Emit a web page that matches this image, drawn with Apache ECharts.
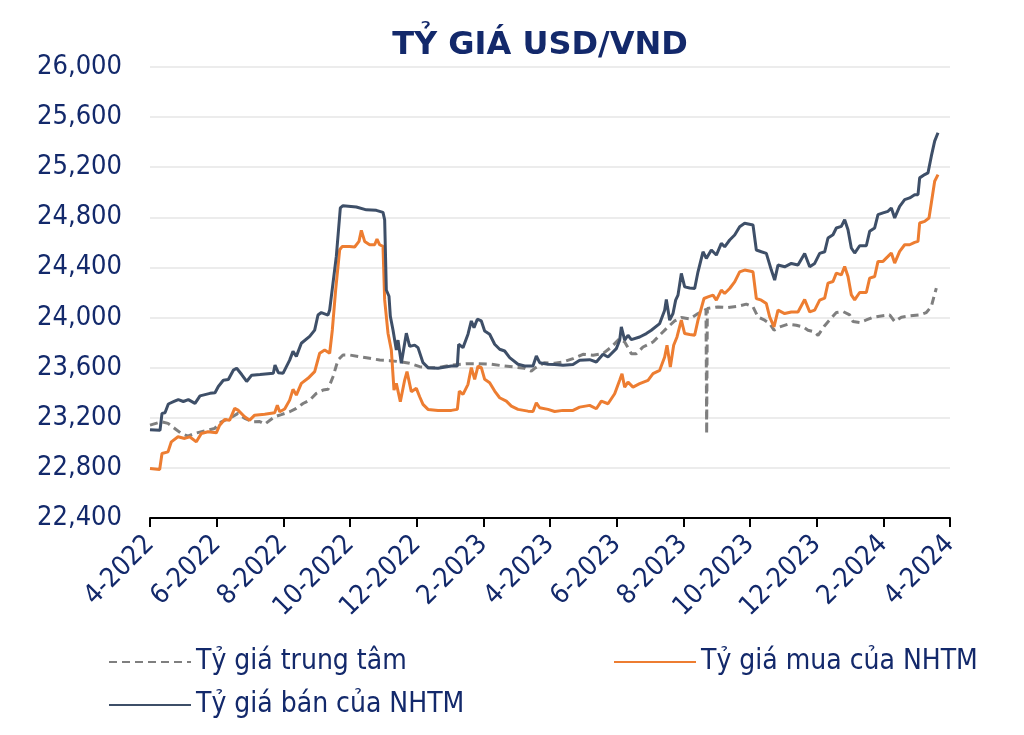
<!DOCTYPE html>
<html>
<head>
<meta charset="utf-8">
<script src="https://cdn.jsdelivr.net/npm/echarts@6/dist/echarts.min.js"></script>
<style>
html,body{margin:0;padding:0;background:#fff;}
#chart{width:1024px;height:735px;}
</style>
</head>
<body>
<div id="chart"></div>
<script>
// x values = months since 1 April 2022
const xTickLabels = ['4-2022','6-2022','8-2022','10-2022','12-2022','2-2023','4-2023','6-2023','8-2023','10-2023','12-2023','2-2024','4-2024'];
const seriesNames = ['Tỷ giá trung tâm', 'Tỷ giá mua của NHTM', 'Tỷ giá bán của NHTM'];

const centralX = [0,0.34,0.54,0.74,0.94,1.14,1.34,1.64,1.94,2.14,2.44,2.64,2.84,3.09,3.29,3.44,3.74,3.94,4.19,4.39,4.59,4.79,4.99,5.19,5.34,5.49,5.64,5.79,5.99,6.29,6.59,6.89,7.19,7.49,7.79,8.09,8.34,8.64,9.04,9.54,9.84,10.24,10.64,10.94,11.24,11.44,11.54,11.84,12.14,12.39,12.69,12.99,13.29,13.59,13.84,14.09,14.24,14.44,14.59,14.79,15.09,15.29,15.54,15.74,15.94,16.19,16.44,16.68,16.70,16.72,17.04,17.34,17.64,17.89,18.09,18.24,18.44,18.59,18.72,18.89,19.14,19.39,19.59,19.74,19.94,20.04,20.24,20.39,20.59,20.79,20.99,21.09,21.29,21.49,21.69,21.94,22.19,22.34,22.54,22.79,23.09,23.29,23.44,23.52,23.59];
const centralY = [23141,23168,23155,23115,23075,23053,23075,23096,23115,23168,23203,23235,23195,23168,23170,23149,23208,23225,23248,23275,23314,23341,23395,23421,23427,23528,23661,23701,23701,23688,23675,23661,23656,23648,23635,23608,23600,23600,23621,23632,23632,23627,23613,23605,23595,23573,23595,23640,23635,23645,23672,23707,23699,23712,23765,23832,23805,23712,23712,23765,23805,23859,23925,23973,24000,23990,24032,24065,23070,24072,24085,24080,24091,24107,24085,24005,23979,23952,23899,23925,23947,23939,23925,23899,23885,23858,23935,23981,24040,24048,24021,23968,23960,23981,24003,24013,24021,23968,24003,24013,24021,24040,24088,24168,24235];

const buyX = [0,0.29,0.36,0.54,0.64,0.84,1.04,1.19,1.39,1.54,1.74,1.99,2.09,2.24,2.39,2.54,2.64,2.84,2.99,3.14,3.44,3.74,3.82,3.89,4.04,4.19,4.29,4.39,4.54,4.74,4.94,5.09,5.24,5.39,5.47,5.57,5.69,5.77,5.99,6.14,6.27,6.34,6.44,6.59,6.74,6.81,6.89,6.99,7.04,7.14,7.24,7.32,7.39,7.51,7.64,7.71,7.84,7.99,8.09,8.19,8.34,8.64,9.04,9.22,9.28,9.39,9.54,9.64,9.74,9.84,9.94,10.04,10.19,10.34,10.49,10.69,10.84,11.04,11.34,11.49,11.59,11.69,11.94,12.14,12.39,12.69,12.89,13.19,13.39,13.54,13.74,13.94,14.09,14.16,14.24,14.34,14.49,14.69,14.94,15.09,15.29,15.44,15.51,15.61,15.71,15.81,15.94,16.04,16.19,16.34,16.44,16.62,16.74,16.89,16.99,17.14,17.24,17.39,17.54,17.69,17.84,18.09,18.19,18.34,18.49,18.59,18.72,18.84,19.04,19.24,19.44,19.64,19.79,19.94,20.09,20.24,20.34,20.49,20.59,20.74,20.84,20.94,21.04,21.14,21.29,21.49,21.59,21.74,21.84,21.99,22.14,22.24,22.34,22.49,22.64,22.79,22.94,23.04,23.09,23.24,23.37,23.44,23.54,23.64];
const buyY = [22795,22787,22915,22928,23008,23048,23035,23048,23008,23075,23088,23080,23141,23187,23181,23275,23261,23208,23181,23221,23229,23240,23301,23248,23270,23341,23427,23381,23475,23515,23568,23715,23741,23715,23901,24221,24541,24568,24568,24563,24608,24696,24608,24581,24581,24627,24581,24568,24141,23875,23741,23421,23475,23328,23501,23568,23408,23435,23368,23307,23267,23259,23259,23267,23413,23387,23467,23600,23507,23613,23600,23507,23480,23413,23360,23333,23293,23267,23253,23250,23320,23280,23267,23250,23259,23259,23285,23299,23272,23333,23312,23392,23499,23552,23445,23485,23445,23472,23499,23552,23579,23685,23779,23605,23779,23845,23979,23872,23865,23859,23979,24152,24165,24179,24139,24219,24192,24232,24285,24365,24379,24365,24152,24139,24112,24005,23925,24059,24032,24045,24045,24144,24045,24059,24139,24155,24275,24288,24355,24341,24408,24328,24181,24141,24200,24200,24315,24328,24448,24448,24488,24515,24435,24528,24581,24581,24600,24608,24755,24768,24795,24915,25088,25141];

const sellX = [0,0.30,0.36,0.45,0.55,0.72,0.85,1.0,1.15,1.35,1.5,1.8,1.95,2.05,2.2,2.35,2.5,2.6,2.75,2.9,3.05,3.3,3.7,3.75,3.85,3.99,4.19,4.29,4.39,4.54,4.79,4.94,5.04,5.14,5.34,5.39,5.49,5.59,5.71,5.79,6.19,6.49,6.79,6.99,7.04,7.09,7.17,7.21,7.29,7.39,7.44,7.54,7.69,7.79,7.94,8.04,8.19,8.34,8.64,9.04,9.22,9.26,9.39,9.54,9.64,9.72,9.82,9.94,10.04,10.19,10.34,10.49,10.64,10.79,11.04,11.24,11.49,11.59,11.69,11.94,12.14,12.39,12.69,12.89,13.19,13.39,13.59,13.74,13.99,14.09,14.14,14.24,14.34,14.44,14.69,14.89,15.04,15.29,15.44,15.49,15.59,15.69,15.77,15.84,15.94,16.04,16.19,16.34,16.44,16.59,16.69,16.84,16.99,17.14,17.24,17.39,17.54,17.69,17.84,18.09,18.19,18.34,18.49,18.64,18.74,18.84,19.04,19.24,19.44,19.64,19.79,19.94,20.09,20.24,20.34,20.49,20.59,20.74,20.84,20.94,21.04,21.14,21.29,21.49,21.59,21.74,21.84,21.99,22.14,22.24,22.34,22.49,22.64,22.79,22.94,23.04,23.09,23.24,23.34,23.44,23.54,23.64];
const sellY = [23105,23100,23235,23240,23310,23330,23345,23330,23345,23315,23375,23395,23400,23450,23500,23505,23580,23595,23545,23490,23540,23545,23555,23620,23560,23555,23660,23730,23690,23795,23850,23900,24020,24040,24020,24060,24275,24490,24875,24893,24883,24860,24856,24840,24780,24220,24170,24010,23900,23740,23820,23635,23875,23770,23780,23760,23640,23600,23595,23613,23613,23787,23760,23867,23973,23920,23987,23973,23893,23867,23787,23747,23733,23680,23627,23613,23613,23693,23640,23627,23625,23619,23625,23659,23664,23645,23707,23685,23752,23819,23925,23819,23859,23824,23845,23872,23899,23952,24059,24144,23979,24032,24139,24179,24352,24245,24236,24232,24365,24525,24472,24539,24499,24592,24565,24619,24659,24725,24752,24739,24539,24525,24512,24379,24299,24419,24405,24432,24419,24512,24405,24432,24512,24525,24635,24661,24715,24728,24781,24701,24555,24515,24573,24573,24688,24715,24821,24835,24848,24875,24795,24888,24941,24955,24981,24981,25115,25141,25155,25288,25408,25475];

const NAVY = '#13296b';
const FONT = "'DejaVu Sans Condensed', 'Liberation Sans', sans-serif";

function pairs(xs, ys) { return xs.map((x, i) => [x, ys[i]]); }

const chart = echarts.init(document.getElementById('chart'));
const legendText = { color: NAVY, fontSize: 28, fontFamily: FONT };
const legendBase = { itemWidth: 82, itemHeight: 2, itemGap: 10, textStyle: legendText, itemStyle: { opacity: 0 } };
chart.setOption({
  backgroundColor: '#ffffff',
  animation: false,
  title: {
    text: 'TỶ GIÁ USD/VND',
    left: 535, top: 25, textAlign: 'center',
    textStyle: { color: NAVY, fontSize: 32, fontWeight: 'bold', fontFamily: "'DejaVu Sans', sans-serif" }
  },
  legend: [
    Object.assign({ data: [seriesNames[0]], left: 103, top: 643 }, legendBase),
    Object.assign({ data: [seriesNames[1]], left: 608, top: 643 }, legendBase),
    Object.assign({ data: [seriesNames[2]], left: 103, top: 686 }, legendBase)
  ],
  grid: { left: 150, right: 74, top: 67, bottom: 217, containLabel: false },
  xAxis: {
    type: 'value', min: 0, max: 24, interval: 2,
    axisLine: { show: true, onZero: false, lineStyle: { color: '#000', width: 2 } },
    axisTick: { show: true, length: 9, lineStyle: { color: '#000', width: 2 } },
    splitLine: { show: false },
    axisLabel: {
      rotate: 45, margin: 22, color: NAVY, fontSize: 27, fontFamily: FONT,
      formatter: v => xTickLabels[Math.round(v / 2)]
    }
  },
  yAxis: {
    type: 'value', min: 22400, max: 26000, interval: 400,
    axisLine: { show: false }, axisTick: { show: false },
    splitLine: { show: true, lineStyle: { color: '#ececec', width: 2 } },
    axisLabel: {
      margin: 28, color: NAVY, fontSize: 27, fontFamily: FONT,
      formatter: v => v.toLocaleString('en-US')
    }
  },
  series: [
    { name: seriesNames[0], type: 'line', symbol: 'none', z: 2,
      data: pairs(centralX, centralY),
      itemStyle: { color: '#7f7f7f' },
      lineStyle: { color: '#7f7f7f', width: 3, type: [8, 5] } },
    { name: seriesNames[1], type: 'line', symbol: 'none', z: 3,
      data: pairs(buyX, buyY),
      itemStyle: { color: '#ed7d31' },
      lineStyle: { color: '#ed7d31', width: 3 } },
    { name: seriesNames[2], type: 'line', symbol: 'none', z: 4,
      data: pairs(sellX, sellY),
      itemStyle: { color: '#3e4f68' },
      lineStyle: { color: '#3e4f68', width: 3 } }
  ]
});
</script>
</body>
</html>
